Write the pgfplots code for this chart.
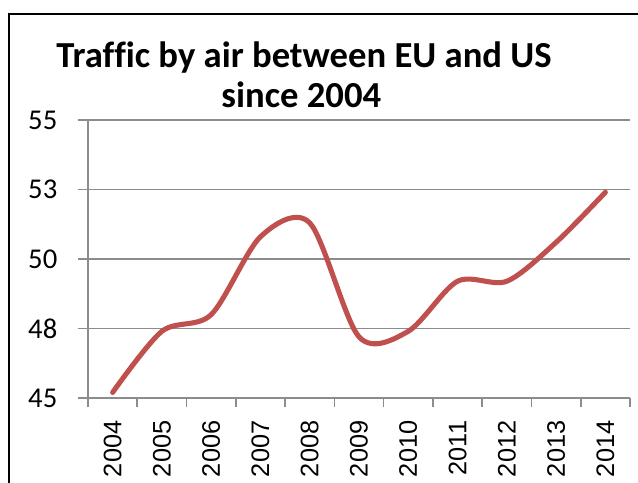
\documentclass[border=0pt]{standalone}
\usepackage{pgfplots}
\pgfplotsset{compat=1.18}
\usepackage{fontspec}
\setmainfont{Carlito}[Ligatures=NoCommon]
\newfontfamily\arialfont{Liberation Sans}
\definecolor{linered}{HTML}{C0504D}
\definecolor{gridgray}{HTML}{8C8C8C}
\begin{document}
\begin{tikzpicture}
\path[use as bounding box] (0,0) rectangle (478.5pt,361.5pt);
\clip (0,0) rectangle (478.5pt,361.5pt);
\draw[line width=1.5pt] (6.75pt,-2pt) -- (6.75pt,351pt) -- (482pt,351pt);
\node[font=\fontsize{27.5}{30}\selectfont\bfseries, anchor=base] at (228pt,310.5pt) {Traffic by air between EU and US};
\node[font=\fontsize{27.5}{30}\selectfont\bfseries, anchor=base] at (226pt,280.5pt) {since 2004};
\begin{axis}[at={(66pt,63pt)}, anchor=south west, scale only axis,
  width=406.5pt, height=208.5pt,
  xmin=-0.5, xmax=10.5, ymin=45, ymax=55,
  axis lines=left, axis line style={-, gridgray, line width=1.2pt},
  xtick={0,...,10},
  xticklabels={2004,2005,2006,2007,2008,2009,2010,2011,2012,2013,2014},
  minor xtick={-0.5,0.5,...,10.5},
  ytick={45,47.5,50,52.5,55},
  yticklabels={45,48,50,53,55},
  tick align=outside,
  major tick length=7.5pt, minor tick length=7pt,
  major x tick style={draw=none},
  minor x tick style={gridgray, line width=1.2pt},
  major y tick style={gridgray, line width=1.2pt},
  ymajorgrids, grid style={gridgray, line width=1.2pt},
  xticklabel style={rotate=90, anchor=east, xshift=-6pt, font=\arialfont\fontsize{19}{19}\selectfont},
  yticklabel style={xshift=-12pt, font=\fontsize{21.5}{21.5}\selectfont},
  clip=false,
]
\addplot[linered, line width=3.8pt, smooth, line cap=round] coordinates {
 (0,45.2) (1,47.4) (2,48.0) (3,50.8) (4,51.3) (5,47.2) (6,47.4) (7,49.2) (8,49.2) (9,50.6) (10,52.4)
};
\end{axis}
\end{tikzpicture}
\end{document}
